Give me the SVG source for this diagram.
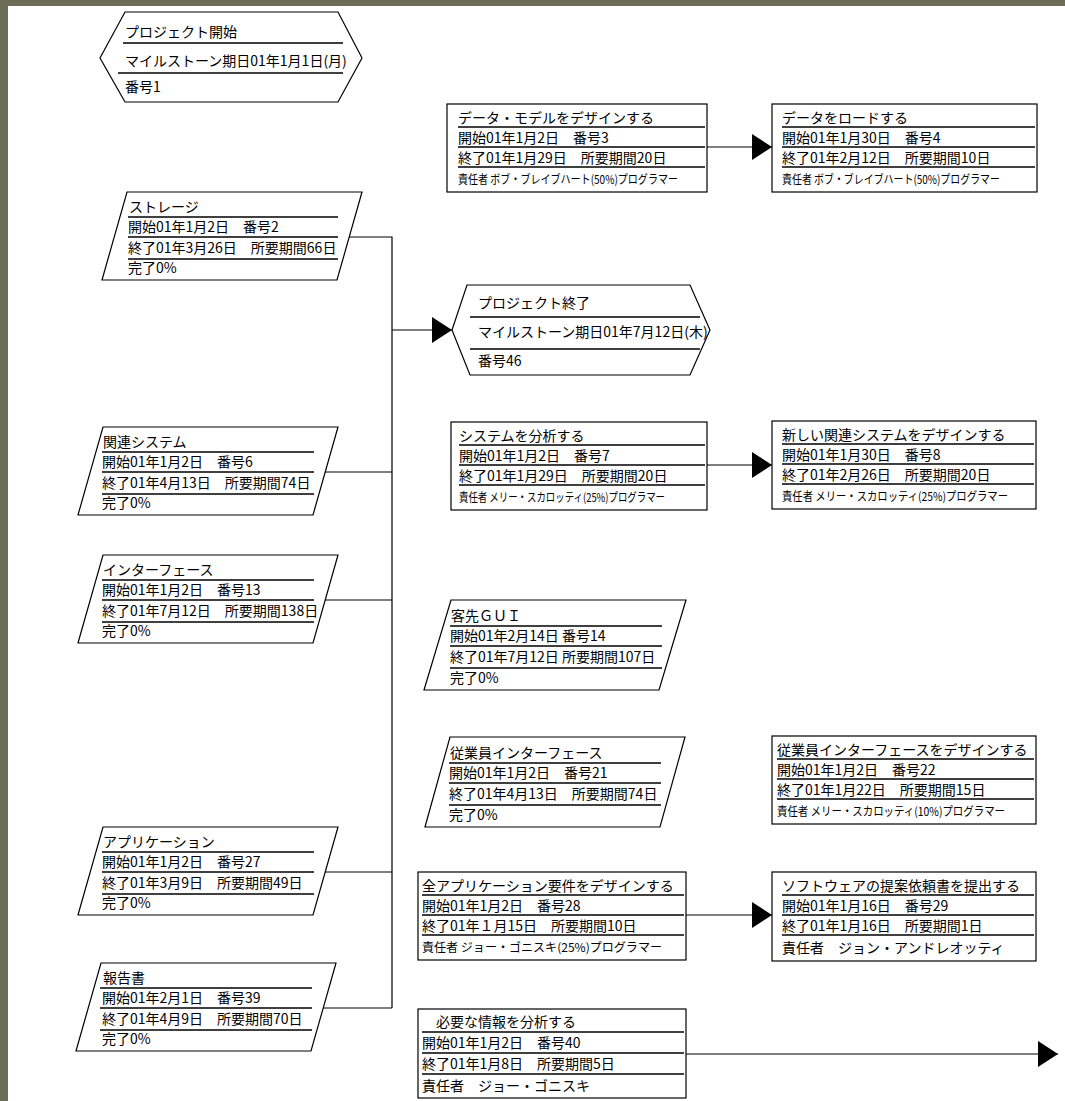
<svg xmlns="http://www.w3.org/2000/svg" width="1065" height="1101" viewBox="0 0 1065 1101">
<style>
.sh{fill:#fff;stroke:#000;stroke-width:1.2}
.dv{stroke:#000;stroke-width:1.6}
.t{font-family:"Noto Sans CJK JP","Noto Sans",sans-serif;font-size:14px;fill:#000}
.s{font-size:12px}
.cn{stroke:#000;stroke-width:1.2;fill:none}
</style>
<defs>
<marker id="ah" markerUnits="userSpaceOnUse" markerWidth="21" markerHeight="27" refX="20" refY="13" orient="auto">
<path d="M0,0 L20,13 L0,26 Z" fill="#000"/>
</marker>
</defs>
<rect width="1065" height="1101" fill="#fff"/>
<rect x="0" y="0" width="1065" height="6" fill="#6b6c55"/>
<rect x="0" y="0" width="8" height="1101" fill="#6b6c55"/>

<g id="connectors">
<path class="cn" d="M349,237 H392 V1008"/>
<path class="cn" d="M325,472 H392"/>
<path class="cn" d="M325,600 H392"/>
<path class="cn" d="M325,872 H392"/>
<path class="cn" d="M323,1008 H392"/>
<path class="cn" d="M392,330 H452" marker-end="url(#ah)"/>
<path class="cn" d="M707,147 H772" marker-end="url(#ah)"/>
<path class="cn" d="M707,465 H772" marker-end="url(#ah)"/>
<path class="cn" d="M686,915 H772" marker-end="url(#ah)"/>
<path class="cn" d="M686,1054 H1058" marker-end="url(#ah)"/>
</g>

<g id="n1" transform="translate(100,12)">
<polygon class="sh" points="25,0 238,0 262,46 238,90 25,90 0,46"/>
<line class="dv" x1="23" y1="31" x2="243" y2="31"/>
<line class="dv" x1="18" y1="61" x2="243" y2="61"/>
<text class="t" x="25" y="25">プロジェクト開始</text>
<text class="t" x="25" y="54">マイルストーン期日01年1月1日(月)</text>
<text class="t" x="25" y="80">番号1</text>
</g>

<g id="n3" transform="translate(447,104)">
<rect class="sh" x="0" y="0" width="260" height="88"/>
<line class="dv" x1="11" y1="23" x2="258" y2="23"/>
<line class="dv" x1="11" y1="43" x2="258" y2="43"/>
<line class="dv" x1="11" y1="63" x2="258" y2="63"/>
<text class="t" x="11" y="19">データ・モデルをデザインする</text>
<text class="t" x="11" y="39">開始01年1月2日　番号3</text>
<text class="t" x="11" y="59">終了01年1月29日　所要期間20日</text>
<text class="t s" x="11" y="80" textLength="220" lengthAdjust="spacingAndGlyphs">責任者 ボブ・ブレイブハート(50%)プログラマー</text>
</g>

<g id="n4" transform="translate(772,104)">
<rect class="sh" x="0" y="0" width="265" height="88"/>
<line class="dv" x1="10" y1="23" x2="263" y2="23"/>
<line class="dv" x1="10" y1="43" x2="263" y2="43"/>
<line class="dv" x1="10" y1="63" x2="263" y2="63"/>
<text class="t" x="10" y="19">データをロードする</text>
<text class="t" x="10" y="39">開始01年1月30日　番号4</text>
<text class="t" x="10" y="59">終了01年2月12日　所要期間10日</text>
<text class="t s" x="10" y="80" textLength="218" lengthAdjust="spacingAndGlyphs">責任者 ボブ・ブレイブハート(50%)プログラマー</text>
</g>

<g id="n2" transform="translate(102,192)">
<polygon class="sh" points="25,0 260,0 235,88 0,88"/>
<line class="dv" x1="26" y1="25" x2="236" y2="25"/>
<line class="dv" x1="26" y1="45" x2="236" y2="45"/>
<line class="dv" x1="26" y1="67" x2="236" y2="67"/>
<text class="t" x="27" y="20">ストレージ</text>
<text class="t" x="26" y="40">開始01年1月2日　番号2</text>
<text class="t" x="26" y="61">終了01年3月26日　所要期間66日</text>
<text class="t" x="26" y="81">完了0%</text>
</g>

<g id="n46" transform="translate(452,285)">
<polygon class="sh" points="15,0 238,0 258,45 238,90 18,90 0,45"/>
<line class="dv" x1="18" y1="32" x2="248" y2="32"/>
<line class="dv" x1="18" y1="64" x2="248" y2="64"/>
<text class="t" x="26" y="23">プロジェクト終了</text>
<text class="t" x="26" y="52">マイルストーン期日01年7月12日(木)</text>
<text class="t" x="26" y="81">番号46</text>
</g>

<g id="n6" transform="translate(78,427)">
<polygon class="sh" points="25,0 260,0 235,88 0,88"/>
<line class="dv" x1="24" y1="25" x2="236" y2="25"/>
<line class="dv" x1="24" y1="45" x2="236" y2="45"/>
<line class="dv" x1="24" y1="67" x2="236" y2="67"/>
<text class="t" x="25" y="20">関連システム</text>
<text class="t" x="24" y="40">開始01年1月2日　番号6</text>
<text class="t" x="24" y="61">終了01年4月13日　所要期間74日</text>
<text class="t" x="24" y="81">完了0%</text>
</g>

<g id="n7" transform="translate(451,422)">
<rect class="sh" x="0" y="0" width="256" height="88"/>
<line class="dv" x1="8" y1="23" x2="254" y2="23"/>
<line class="dv" x1="8" y1="43" x2="254" y2="43"/>
<line class="dv" x1="8" y1="63" x2="254" y2="63"/>
<text class="t" x="8" y="19">システムを分析する</text>
<text class="t" x="8" y="39">開始01年1月2日　番号7</text>
<text class="t" x="8" y="59">終了01年1月29日　所要期間20日</text>
<text class="t s" x="8" y="80" textLength="206" lengthAdjust="spacingAndGlyphs">責任者 メリー・スカロッティ(25%)プログラマー</text>
</g>

<g id="n8" transform="translate(772,421)">
<rect class="sh" x="0" y="0" width="264" height="88"/>
<line class="dv" x1="10" y1="23" x2="262" y2="23"/>
<line class="dv" x1="10" y1="43" x2="262" y2="43"/>
<line class="dv" x1="10" y1="63" x2="262" y2="63"/>
<text class="t" x="10" y="19">新しい関連システムをデザインする</text>
<text class="t" x="10" y="39">開始01年1月30日　番号8</text>
<text class="t" x="10" y="59">終了01年2月26日　所要期間20日</text>
<text class="t s" x="10" y="80" textLength="226" lengthAdjust="spacingAndGlyphs">責任者 メリー・スカロッティ(25%)プログラマー</text>
</g>

<g id="n13" transform="translate(78,555)">
<polygon class="sh" points="25,0 260,0 235,88 0,88"/>
<line class="dv" x1="24" y1="25" x2="236" y2="25"/>
<line class="dv" x1="24" y1="45" x2="236" y2="45"/>
<line class="dv" x1="24" y1="67" x2="236" y2="67"/>
<text class="t" x="25" y="20">インターフェース</text>
<text class="t" x="24" y="40">開始01年1月2日　番号13</text>
<text class="t" x="24" y="61">終了01年7月12日　所要期間138日</text>
<text class="t" x="24" y="81">完了0%</text>
</g>

<g id="n14" transform="translate(424,600)">
<polygon class="sh" points="27,0 262,0 235,90 0,90"/>
<line class="dv" x1="26" y1="26" x2="238" y2="26"/>
<line class="dv" x1="26" y1="46" x2="238" y2="46"/>
<line class="dv" x1="26" y1="68" x2="238" y2="68"/>
<text class="t" x="27" y="21">客先ＧＵＩ</text>
<text class="t" x="26" y="41">開始01年2月14日 番号14</text>
<text class="t" x="26" y="62">終了01年7月12日 所要期間107日</text>
<text class="t" x="26" y="83">完了0%</text>
</g>

<g id="n21" transform="translate(425,737)">
<polygon class="sh" points="25,0 260,0 235,90 0,90"/>
<line class="dv" x1="24" y1="26" x2="236" y2="26"/>
<line class="dv" x1="24" y1="46" x2="236" y2="46"/>
<line class="dv" x1="24" y1="68" x2="236" y2="68"/>
<text class="t" x="25" y="21">従業員インターフェース</text>
<text class="t" x="24" y="41">開始01年1月2日　番号21</text>
<text class="t" x="24" y="62">終了01年4月13日　所要期間74日</text>
<text class="t" x="24" y="83">完了0%</text>
</g>

<g id="n22" transform="translate(772,736)">
<rect class="sh" x="0" y="0" width="264" height="88"/>
<line class="dv" x1="5" y1="23" x2="262" y2="23"/>
<line class="dv" x1="5" y1="43" x2="262" y2="43"/>
<line class="dv" x1="5" y1="63" x2="262" y2="63"/>
<text class="t" x="5" y="19">従業員インターフェースをデザインする</text>
<text class="t" x="5" y="39">開始01年1月2日　番号22</text>
<text class="t" x="5" y="59">終了01年1月22日　所要期間15日</text>
<text class="t s" x="5" y="80" textLength="228" lengthAdjust="spacingAndGlyphs">責任者 メリー・スカロッティ(10%)プログラマー</text>
</g>

<g id="n27" transform="translate(78,827)">
<polygon class="sh" points="25,0 260,0 235,88 0,88"/>
<line class="dv" x1="24" y1="25" x2="236" y2="25"/>
<line class="dv" x1="24" y1="45" x2="236" y2="45"/>
<line class="dv" x1="24" y1="67" x2="236" y2="67"/>
<text class="t" x="25" y="20">アプリケーション</text>
<text class="t" x="24" y="40">開始01年1月2日　番号27</text>
<text class="t" x="24" y="61">終了01年3月9日　所要期間49日</text>
<text class="t" x="24" y="81">完了0%</text>
</g>

<g id="n28" transform="translate(418,872)">
<rect class="sh" x="0" y="0" width="268" height="88"/>
<line class="dv" x1="4" y1="23" x2="266" y2="23"/>
<line class="dv" x1="4" y1="43" x2="266" y2="43"/>
<line class="dv" x1="4" y1="63" x2="266" y2="63"/>
<text class="t" x="4" y="19">全アプリケーション要件をデザインする</text>
<text class="t" x="4" y="39">開始01年1月2日　番号28</text>
<text class="t" x="4" y="59">終了01年１月15日　所要期間10日</text>
<text class="t s" x="4" y="80" textLength="240" lengthAdjust="spacingAndGlyphs">責任者 ジョー・ゴニスキ(25%)プログラマー</text>
</g>

<g id="n29" transform="translate(772,872)">
<rect class="sh" x="0" y="0" width="264" height="89"/>
<line class="dv" x1="10" y1="23" x2="262" y2="23"/>
<line class="dv" x1="10" y1="43" x2="262" y2="43"/>
<line class="dv" x1="10" y1="63" x2="262" y2="63"/>
<text class="t" x="10" y="19">ソフトウェアの提案依頼書を提出する</text>
<text class="t" x="10" y="39">開始01年1月16日　番号29</text>
<text class="t" x="10" y="59">終了01年1月16日　所要期間1日</text>
<text class="t" x="10" y="81">責任者　ジョン・アンドレオッティ</text>
</g>

<g id="n39" transform="translate(76,963)">
<polygon class="sh" points="25,0 260,0 235,88 0,88"/>
<line class="dv" x1="24" y1="25" x2="236" y2="25"/>
<line class="dv" x1="24" y1="45" x2="236" y2="45"/>
<line class="dv" x1="24" y1="67" x2="236" y2="67"/>
<text class="t" x="27" y="20">報告書</text>
<text class="t" x="26" y="40">開始01年2月1日　番号39</text>
<text class="t" x="26" y="61">終了01年4月9日　所要期間70日</text>
<text class="t" x="26" y="81">完了0%</text>
</g>

<g id="n40" transform="translate(418,1009)">
<rect class="sh" x="0" y="0" width="268" height="89"/>
<line class="dv" x1="4" y1="23" x2="266" y2="23"/>
<line class="dv" x1="4" y1="44" x2="266" y2="44"/>
<line class="dv" x1="4" y1="65" x2="266" y2="65"/>
<text class="t" x="18" y="18">必要な情報を分析する</text>
<text class="t" x="4" y="39">開始01年1月2日　番号40</text>
<text class="t" x="4" y="60">終了01年1月8日　所要期間5日</text>
<text class="t" x="4" y="82">責任者　ジョー・ゴニスキ</text>
</g>
</svg>
